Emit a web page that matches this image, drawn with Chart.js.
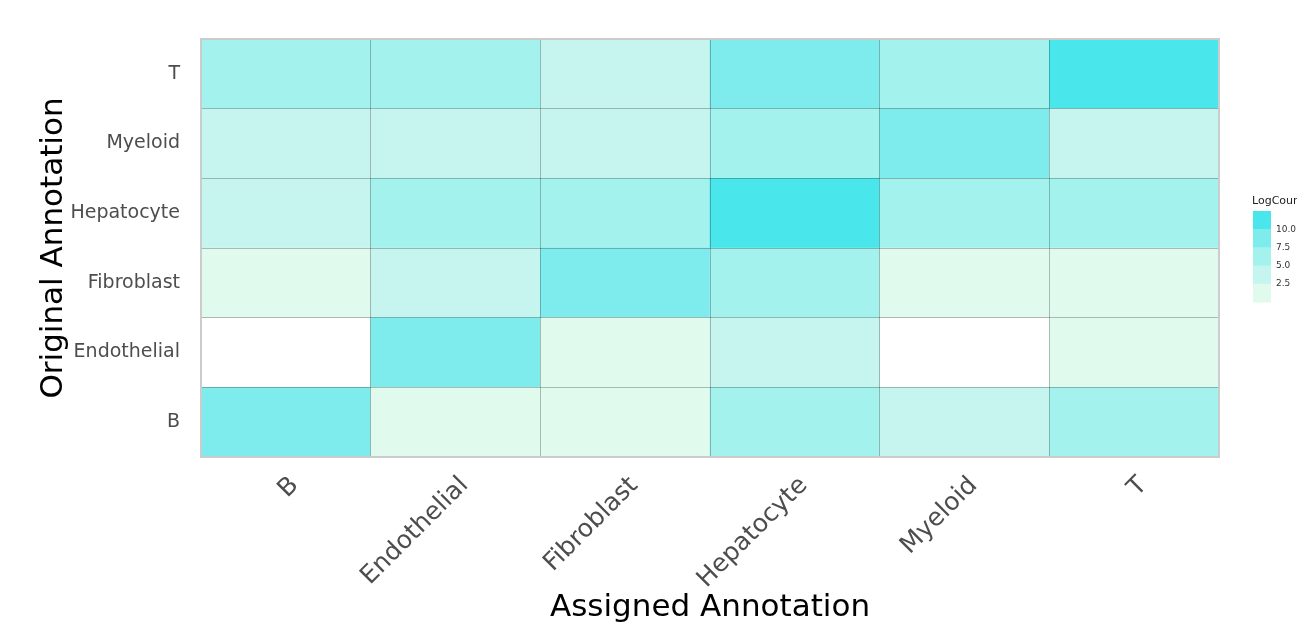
<!DOCTYPE html>
<html>
<head>
<meta charset="utf-8">
<script src="https://cdn.jsdelivr.net/npm/chart.js@4"></script>
<style>
  html, body { margin: 0; padding: 0; background: #fff; }
  #wrap { width: 1297px; height: 622px; }
</style>
</head>
<body>
<div id="wrap"><canvas id="heat"></canvas></div>
<script>
// assigned annotation (columns) and original annotation (rows, bottom to top)
const assigned = ['B', 'Endothelial', 'Fibroblast', 'Hepatocyte', 'Myeloid', 'T'];
const original = ['B', 'Endothelial', 'Fibroblast', 'Hepatocyte', 'Myeloid', 'T'];

// log counts per original row, in the column order above (null = no cells)
const rowB           = [8.6, 1.6, 1.9, 6.2, 4.1, 6.8];
const rowEndothelial = [null, 8.9, 2.0, 3.7, null, 2.2];
const rowFibroblast  = [1.1, 3.9, 9.1, 5.6, 1.8, 2.3];
const rowHepatocyte  = [3.5, 6.4, 5.8, 11.2, 6.0, 5.9];
const rowMyeloid     = [3.3, 4.2, 3.6, 6.1, 9.0, 4.0];
const rowT           = [5.9, 5.7, 3.4, 8.2, 6.3, 11.0];
const rows = [rowB, rowEndothelial, rowFibroblast, rowHepatocyte, rowMyeloid, rowT];

// binned colour scale
const breaks = [2.5, 5.0, 7.5, 10.0];
const binColors = ['#E0FAEE', '#C5F5EE', '#A4F2ED', '#7EEBED', '#49E6EC'];

function binColor(v) {
  if (v == null) return 'rgba(0,0,0,0)';
  let i = 0;
  while (i < breaks.length && v >= breaks[i]) i++;
  return binColors[i];
}

const datasets = rows.map((vals, r) => ({
  label: original[r],
  data: vals.map(v => v == null ? null : [r, r + 1]),
  backgroundColor: vals.map(binColor),
  borderWidth: 0,
  grouped: false,
  barPercentage: 1,
  categoryPercentage: 1,
}));

// outer panel border + binned colour legend
const panelAndLegend = {
  id: 'panelAndLegend',
  afterDraw(chart) {
    const { ctx, chartArea: a } = chart;
    ctx.save();
    ctx.strokeStyle = '#CCCCCC';
    ctx.lineWidth = 2;
    ctx.strokeRect(a.left, a.top, a.right - a.left, a.bottom - a.top);

    // legend
    const lx = 1253, ly = 211, lw = 18, lh = 18.2;
    ctx.fillStyle = '#222';
    ctx.font = '11px "DejaVu Sans"';
    ctx.textBaseline = 'alphabetic';
    ctx.textAlign = 'left';
    ctx.fillText('LogCount', 1252, 204);
    for (let i = 0; i < binColors.length; i++) {
      ctx.fillStyle = binColors[binColors.length - 1 - i];
      ctx.fillRect(lx, ly + i * lh, lw, lh + 0.5);
    }
    ctx.fillStyle = '#333';
    ctx.font = '9px "DejaVu Sans"';
    ctx.textBaseline = 'middle';
    breaks.slice().reverse().forEach((b, i) => {
      ctx.fillText(b.toFixed(1), lx + lw + 5, ly + (i + 1) * lh);
    });
    ctx.restore();
  }
};

new Chart(document.getElementById('heat'), {
  type: 'bar',
  data: { labels: assigned, datasets },
  options: {
    responsive: true,
    maintainAspectRatio: false,
    animation: false,
    layout: { padding: { top: 39, right: 78, left: 0, bottom: 0 } },
    plugins: { legend: { display: false }, tooltip: { enabled: false } },
    scales: {
      x: {
        offset: true,
        grid: { offset: true, z: 1, color: 'rgba(0,0,0,0.25)', drawTicks: false },
        border: { display: false },
        ticks: {
          color: '#4D4D4D',
          font: { family: 'DejaVu Sans', size: 25 },
          minRotation: 45, maxRotation: 45, padding: 14, labelOffset: 9,
        },
        title: {
          display: true, text: 'Assigned Annotation', color: '#000',
          font: { family: 'DejaVu Sans', size: 31, lineHeight: 0.9 }, padding: 0,
        },
        afterFit(scale) { scale.height = 165; },
      },
      y: {
        type: 'linear', min: 0, max: 6,
        afterBuildTicks(scale) {
          const t = [];
          for (let i = 0; i <= 12; i++) t.push({ value: i / 2 });
          scale.ticks = t;
        },
        grid: {
          z: 1, drawTicks: false,
          color: c => Number.isInteger(c.tick && c.tick.value) ? 'rgba(0,0,0,0.25)' : 'rgba(0,0,0,0)',
        },
        border: { display: false },
        ticks: {
          color: '#4D4D4D',
          font: { family: 'DejaVu Sans', size: 19 },
          padding: 21,
          autoSkip: false,
          callback: v => Number.isInteger(v) ? '' : original[Math.floor(v)],
        },
        title: {
          display: true, text: 'Original Annotation', color: '#000',
          font: { family: 'DejaVu Sans', size: 31 }, padding: { top: 35, bottom: 0 },
        },
        afterFit(scale) { scale.width = 201; },
      },
    },
  },
  plugins: [panelAndLegend],
});
</script>
</body>
</html>
